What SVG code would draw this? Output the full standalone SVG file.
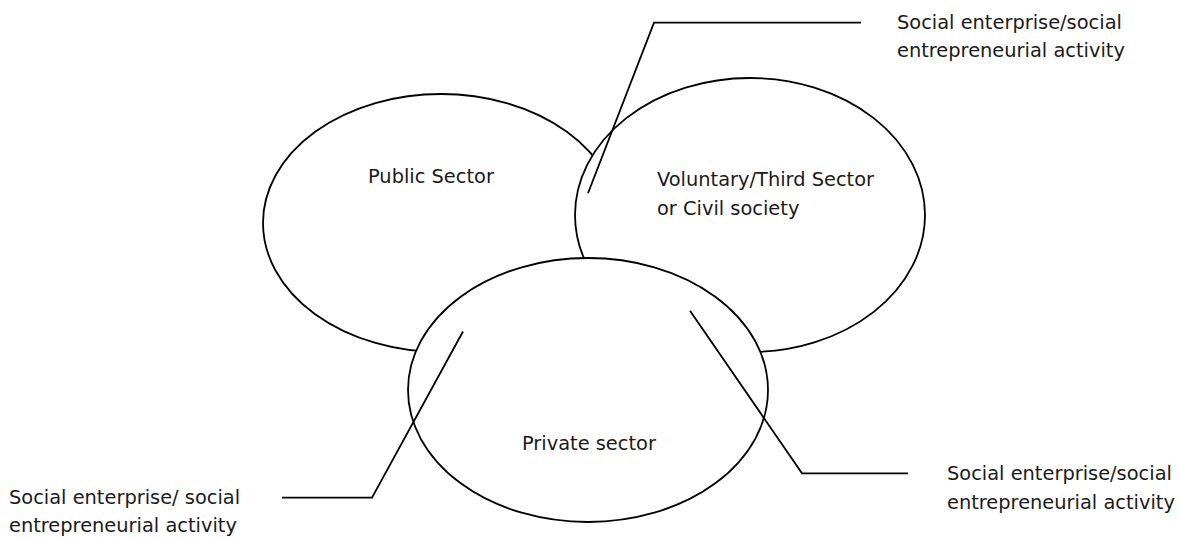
<svg xmlns="http://www.w3.org/2000/svg" width="1179" height="539" viewBox="0 0 1179 539">
<style>
.sector{fill:#ffffff;stroke:#000000;stroke-width:1.8}
.lbl{font-family:"DejaVu Sans","Liberation Sans",sans-serif;font-size:19.4px;fill:#1a1a1a}
.conn{fill:none;stroke:#000000;stroke-width:1.8;stroke-linejoin:miter}
</style>
<rect width="1179" height="539" fill="#ffffff"/>
<g id="public-sector">
<ellipse class="sector" cx="441" cy="223" rx="178" ry="129"/>
<text class="lbl" x="368" y="183">Public Sector</text>
</g>
<g id="voluntary-sector">
<ellipse class="sector" cx="750" cy="215" rx="175" ry="137"/>
<text class="lbl" x="657" y="186">Voluntary/Third Sector</text>
<text class="lbl" x="657" y="214.5">or Civil society</text>
</g>
<g id="private-sector">
<ellipse class="sector" cx="588" cy="390" rx="180" ry="132"/>
<text class="lbl" x="522" y="450">Private sector</text>
</g>
<g id="connectors">
<polyline class="conn" points="861,22.7 654,22.7 588,193.3"/>
<polyline class="conn" points="282,497.7 372,497.7 463,331.5"/>
<polyline class="conn" points="690,310.7 802,473.3 908,473.3"/>
</g>
<g id="label-top-right">
<text class="lbl" x="897" y="28.5">Social enterprise/social</text>
<text class="lbl" x="897" y="57">entrepreneurial activity</text>
</g>
<g id="label-bottom-left">
<text class="lbl" x="9" y="503.5">Social enterprise/ social</text>
<text class="lbl" x="9" y="532">entrepreneurial activity</text>
</g>
<g id="label-bottom-right">
<text class="lbl" x="947" y="480">Social enterprise/social</text>
<text class="lbl" x="947" y="508.5">entrepreneurial activity</text>
</g>
</svg>
